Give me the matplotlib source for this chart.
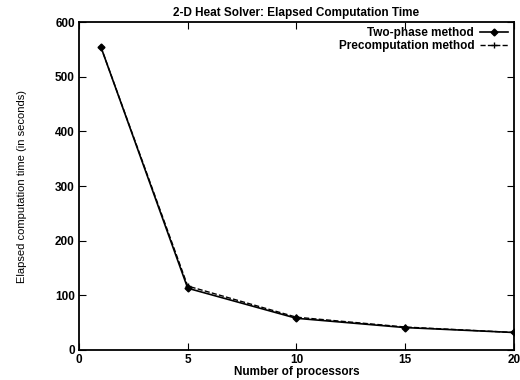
import matplotlib
matplotlib.use('Agg')
import matplotlib.pyplot as plt

processors = [1, 5, 10, 15, 20]
two_phase = [555, 113, 58, 41, 32]
precomp = [555, 117, 60, 42, 32]

x_ticks = [0, 5, 10, 15, 20]
y_ticks = [0, 100, 200, 300, 400, 500, 600]

plt.rcParams['font.family'] = ['Liberation Sans', 'DejaVu Sans']

fig = plt.figure(figsize=(5.2, 3.8), dpi=100)
ax = fig.add_axes([0.152, 0.079, 0.836, 0.863])

ax.plot(processors, two_phase, color='black', lw=1.2, marker='D', ms=3.5,
        label='Two-phase method')
ax.plot(processors, precomp, color='black', lw=1.0, ls='--', marker='+', ms=5,
        label='Precomputation method')

ax.set_xlim(0, 20)
ax.set_ylim(0, 600)
ax.set_xticks(x_ticks)
ax.set_yticks(y_ticks)
ax.tick_params(direction='in', top=True, right=True, length=5, labelsize=8.5, pad=3)
for lab in ax.get_xticklabels() + ax.get_yticklabels():
    lab.set_fontweight('bold')
for s in ax.spines.values():
    s.set_linewidth(1.3)

ax.set_title('2-D Heat Solver: Elapsed Computation Time', fontsize=8.5,
             fontweight='bold', pad=4)
ax.set_xlabel('Number of processors', fontsize=8.5, fontweight='bold', labelpad=0)
ax.set_ylabel('Elapsed computation time (in seconds)', fontsize=8, labelpad=20)

leg = ax.legend(loc='upper right', markerfirst=False, frameon=False,
                fontsize=8.5, handlelength=2.4, borderaxespad=0.05,
                labelspacing=0.05, handletextpad=0.5)
for t in leg.get_texts():
    t.set_fontweight('bold')
    t.set_ha('right')

fig.savefig('out.png', dpi=100)
